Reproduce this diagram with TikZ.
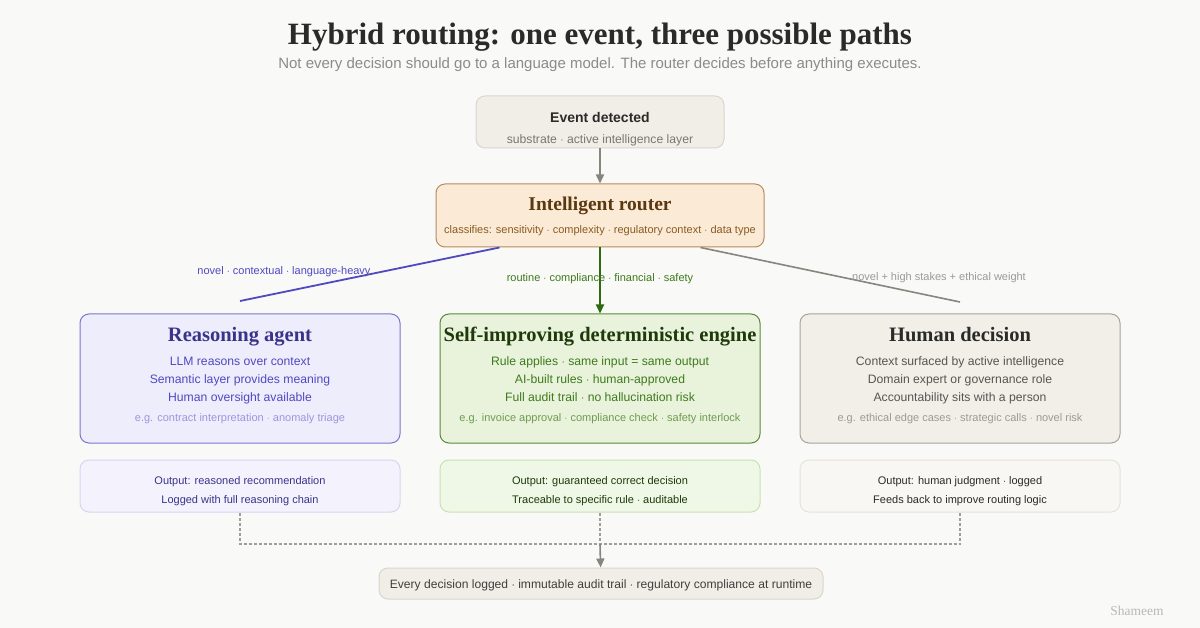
\documentclass[tikz,border=0pt]{standalone}
\usepackage{fontspec}
\setmainfont{Liberation Serif}
\setsansfont{Liberation Sans}
\usetikzlibrary{arrows.meta}
\definecolor{paper}{HTML}{F9F9F7}
\definecolor{stone}{HTML}{F1EEE8}
\definecolor{stoneline}{HTML}{DAD6CE}
\definecolor{ink}{HTML}{2A2A28}
\definecolor{mute}{HTML}{777772}
\definecolor{arrowgray}{HTML}{86867F}
\definecolor{routerfill}{HTML}{FBEBD6}
\definecolor{routerline}{HTML}{B88A5C}
\definecolor{routerink}{HTML}{5A3810}
\definecolor{routersub}{HTML}{8A5A22}
\definecolor{agentfill}{HTML}{EEEDFC}
\definecolor{agentline}{HTML}{7C75D2}
\definecolor{agentink}{HTML}{3A338A}
\definecolor{agenttxt}{HTML}{5049C2}
\definecolor{agentsoft}{HTML}{9C96DE}
\definecolor{agentout}{HTML}{F4F3FD}
\definecolor{agentoutline}{HTML}{D8D4F4}
\definecolor{rulefill}{HTML}{E9F3DC}
\definecolor{ruleline}{HTML}{5A8A36}
\definecolor{ruleink}{HTML}{1F3A0A}
\definecolor{ruletxt}{HTML}{3E7A1C}
\definecolor{rulesoft}{HTML}{6E9C4E}
\definecolor{ruleout}{HTML}{EFF7E6}
\definecolor{ruleoutline}{HTML}{CAE2B2}
\definecolor{rulearrow}{HTML}{2E6A10}
\definecolor{humanfill}{HTML}{F2EFE8}
\definecolor{humanline}{HTML}{A8A49C}
\definecolor{humantxt}{HTML}{555552}
\definecolor{humansoft}{HTML}{9A9A96}
\definecolor{humanout}{HTML}{F8F7F3}
\definecolor{humanoutline}{HTML}{E6E3DC}
\newcommand{\fs}[1]{\fontsize{#1}{#1}\selectfont}
\tikzset{
    card/.style={draw, rounded corners=9pt, line width=1pt, inner sep=0pt},
    lbl/.style={inner sep=0pt, anchor=mid, yshift=-3pt, font=\sffamily\fs{12.2}},
    head/.style={inner sep=0pt, anchor=mid, yshift=-3pt, font=\bfseries\fs{20.5}}
}
\begin{document}
\begin{tikzpicture}[x=1pt, y=-1pt, >={Triangle[length=9pt,width=8pt]}]
    \path[fill=paper] (0,0) rectangle (1200,628);
    % heading
    \node[inner sep=0pt, anchor=base, font=\bfseries\fs{31}, text=ink] (title) at (600,45) {Hybrid routing: one event, three possible paths};
    \node[inner sep=0pt, anchor=base, font=\sffamily\fs{15}, text=mute!85] (subtitle) at (600,69) {Not every decision should go to a language model. The router decides before anything executes.};
    % event and router
    \node[card, fill=stone, draw=stoneline, minimum width=248pt, minimum height=52pt] (event) at (600,122) {};
    \node[lbl, font=\sffamily\bfseries\fs{14}, text=ink] (eventhead) at (600,117) {Event detected};
    \node[lbl, text=mute] (eventsub) at (600,138) {substrate $\cdot$ active intelligence layer};
    \node[card, fill=routerfill, draw=routerline, minimum width=328pt, minimum height=63pt] (router) at (600,215.5) {};
    \node[head, font=\bfseries\fs{19.5}, text=routerink] (routerhead) at (600,205) {Intelligent router};
    \node[lbl, font=\sffamily\fs{11}, text=routersub] (routersubl) at (600,228) {classifies: sensitivity $\cdot$ complexity $\cdot$ regulatory context $\cdot$ data type};
    \draw[->, arrowgray, line width=1.6pt] (event) -- (router);
    % three paths
    \node[card, fill=agentfill, draw=agentline, minimum width=320pt, minimum height=129pt] (agent) at (240,378.5) {};
    \node[card, fill=rulefill, draw=ruleline, minimum width=320pt, minimum height=129pt] (engine) at (600,378.5) {};
    \node[card, fill=humanfill, draw=humanline, minimum width=320pt, minimum height=129pt] (human) at (960,378.5) {};
    \coordinate (agenttop) at (240,301);
    \coordinate (humantop) at (960,302);
    \draw[agenttxt, line width=1.8pt] (router.south west) ++(64,0) -- (agenttop);
    \draw[arrowgray, line width=1.6pt] (router.south east) ++(-64,0) -- (humantop);
    \draw[->, rulearrow, line width=1.8pt] (router) -- (engine);
    \node[lbl, font=\sffamily\fs{11}, text=agenttxt] (agentedge) at (284,269) {novel $\cdot$ contextual $\cdot$ language-heavy};
    \node[lbl, font=\sffamily\fs{11}, text=ruletxt] (engineedge) at (600,276) {routine $\cdot$ compliance $\cdot$ financial $\cdot$ safety};
    \node[lbl, font=\sffamily\fs{11}, text=humansoft] (humanedge) at (939,275) {novel + high stakes + ethical weight};
    % reasoning agent
    \node[head, text=agentink] (agenthead) at (240,336) {Reasoning agent};
    \node[lbl, text=agenttxt] (agent1) at (240,360) {LLM reasons over context};
    \node[lbl, text=agenttxt] (agent2) at (240,378) {Semantic layer provides meaning};
    \node[lbl, text=agenttxt] (agent3) at (240,396) {Human oversight available};
    \node[lbl, font=\sffamily\fs{11}, text=agentsoft] (agenteg) at (240,416) {e.g. contract interpretation $\cdot$ anomaly triage};
    % deterministic engine
    \node[head, text=ruleink] (enginehead) at (600,336) {Self-improving deterministic engine};
    \node[lbl, text=ruletxt] (engine1) at (600,360) {Rule applies $\cdot$ same input = same output};
    \node[lbl, text=ruletxt] (engine2) at (600,378) {AI-built rules $\cdot$ human-approved};
    \node[lbl, text=ruletxt] (engine3) at (600,396) {Full audit trail $\cdot$ no hallucination risk};
    \node[lbl, font=\sffamily\fs{11}, text=rulesoft] (engineeg) at (600,416) {e.g. invoice approval $\cdot$ compliance check $\cdot$ safety interlock};
    % human decision
    \node[head, text=ink] (humanhead) at (960,336) {Human decision};
    \node[lbl, text=humantxt] (human1) at (960,360) {Context surfaced by active intelligence};
    \node[lbl, text=humantxt] (human2) at (960,378) {Domain expert or governance role};
    \node[lbl, text=humantxt] (human3) at (960,396) {Accountability sits with a person};
    \node[lbl, font=\sffamily\fs{11}, text=humansoft] (humaneg) at (960,416) {e.g. ethical edge cases $\cdot$ strategic calls $\cdot$ novel risk};
    % outputs
    \node[card, fill=agentout, draw=agentoutline, minimum width=320pt, minimum height=52pt] (agentout) at (240,486) {};
    \node[card, fill=ruleout, draw=ruleoutline, minimum width=320pt, minimum height=52pt] (engineout) at (600,486) {};
    \node[card, fill=humanout, draw=humanoutline, minimum width=320pt, minimum height=52pt] (humanout) at (960,486) {};
    \node[lbl, font=\sffamily\fs{11}, text=agentink] (agentout1) at (240,479) {Output: reasoned recommendation};
    \node[lbl, font=\sffamily\fs{11}, text=agentink] (agentout2) at (240,498) {Logged with full reasoning chain};
    \node[lbl, font=\sffamily\fs{11}, text=ruleink] (engineout1) at (600,479) {Output: guaranteed correct decision};
    \node[lbl, font=\sffamily\fs{11}, text=ruleink] (engineout2) at (600,498) {Traceable to specific rule $\cdot$ auditable};
    \node[lbl, font=\sffamily\fs{11}, text=ink] (humanout1) at (960,479) {Output: human judgment $\cdot$ logged};
    \node[lbl, font=\sffamily\fs{11}, text=ink] (humanout2) at (960,498) {Feeds back to improve routing logic};
    % audit trail
    \node[card, fill=stone, draw=stoneline, minimum width=444pt, minimum height=31pt] (audit) at (601,583.5) {};
    \node[lbl, font=\sffamily\fs{12.1}, text=ink!90] (audittxt) at (601,583) {Every decision logged $\cdot$ immutable audit trail $\cdot$ regulatory compliance at runtime};
    \coordinate (merge) at (600,544);
    \draw[arrowgray!80, line width=1.2pt, dash pattern=on 3pt off 2pt] (agentout) |- (merge) -| (humanout);
    \draw[arrowgray!80, line width=1.2pt, dash pattern=on 3pt off 2pt] (engineout) -- (merge);
    \draw[->, arrowgray, line width=1.6pt] (merge) -- (audit);
    \node[inner sep=0pt, anchor=mid, yshift=-3pt, font=\fs{13.5}, text=humansoft!70] (signature) at (1137,610) {Shameem};
\end{tikzpicture}
\end{document}
